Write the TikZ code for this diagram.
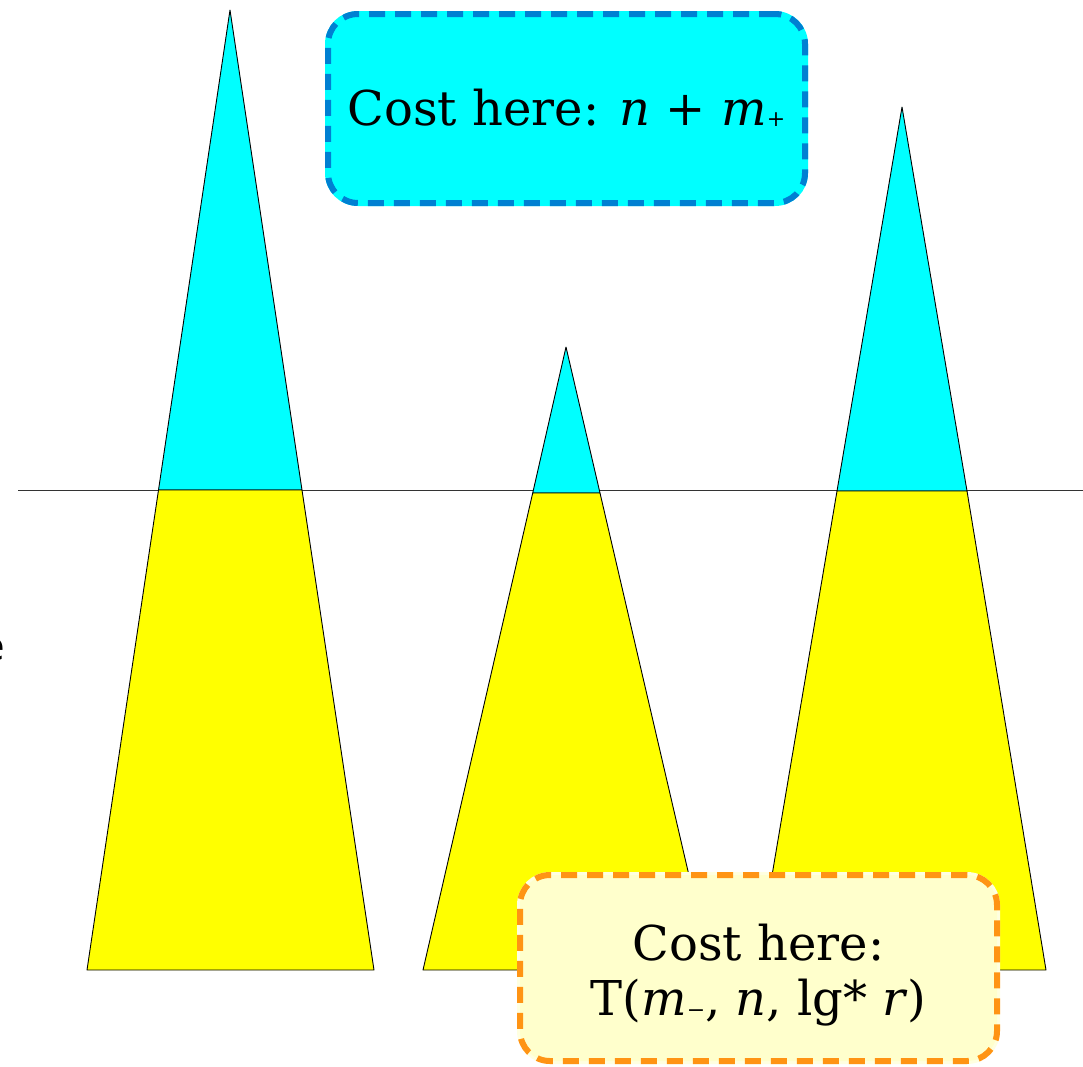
\documentclass[tikz,border=0pt]{standalone}
\usepackage{fontspec}
\setmainfont{DejaVu Serif}
\newfontfamily\edgesans{DejaVu Sans}
\definecolor{topfill}{RGB}{0,255,255}
\definecolor{topline}{RGB}{0,128,210}
\definecolor{botfill}{RGB}{255,255,204}
\definecolor{botline}{RGB}{255,148,20}
\definecolor{triup}{RGB}{0,255,255}
\definecolor{trilow}{RGB}{255,255,0}
\newcommand{\smallsub}[2]{\raisebox{#1}{\fontsize{22}{22}\selectfont #2}}
\begin{document}
\begin{tikzpicture}[x=1pt,y=-1pt,
  upperpart/.style={fill=triup,draw=black,line width=0.9pt,line join=round},
  lowerpart/.style={fill=trilow,draw=black,line width=0.9pt,line join=round},
  costbox/.style={rounded corners=30pt,line width=6pt,dash pattern=on 16pt off 10pt,
    minimum width=477pt,inner sep=0pt,align=center,
    font=\fontsize{48}{55}\selectfont},
]
\useasboundingbox (0,0) rectangle (1083,1066);
% horizontal level line
\coordinate (lineL) at (18,490);
\coordinate (lineR) at (1083,490);
\draw[line width=0.9pt,black!80] (lineL) -- (lineR);
% left tree
\coordinate (aTop) at (230,10);
\coordinate (aML) at (158.5,490);
\coordinate (aMR) at (302,490);
\coordinate (aBL) at (87,970);
\coordinate (aBR) at (374,970);
\draw[upperpart] (aTop) -- (aMR) -- (aML) -- cycle;
\draw[lowerpart] (aML) -- (aMR) -- (aBR) -- (aBL) -- cycle;
% middle tree
\coordinate (bTop) at (566,347);
\coordinate (bML) at (532.7,493);
\coordinate (bMR) at (600,493);
\coordinate (bBL) at (423,970);
\coordinate (bBR) at (711,970);
\draw[upperpart] (bTop) -- (bMR) -- (bML) -- cycle;
\draw[lowerpart] (bML) -- (bMR) -- (bBR) -- (bBL) -- cycle;
% right tree
\coordinate (cTop) at (902,107);
\coordinate (cML) at (837,491);
\coordinate (cMR) at (967,491);
\coordinate (cBL) at (756,970);
\coordinate (cBR) at (1046,970);
\draw[upperpart] (cTop) -- (cMR) -- (cML) -- cycle;
\draw[lowerpart] (cML) -- (cMR) -- (cBR) -- (cBL) -- cycle;
% clipped letter at the left edge
\node[anchor=base east,inner sep=0pt,font=\edgesans\fontsize{40}{48}\selectfont] (edgeletter) at (5,660) {e};
% cost boxes
\node[costbox,minimum height=189pt,fill=topfill,draw=topline,
  preaction={draw=topfill,solid,line width=6pt}] (topbox) at (566.5,108.5)
  {\raisebox{0pt}[33pt][0pt]{Cost here: \textit{n} + \textit{m}\smallsub{-1pt}{+}}};
\node[costbox,minimum height=186pt,fill=botfill,draw=botline,
  preaction={draw=botfill!60!white,solid,line width=6pt}] (botbox) at (758.5,968)
  {\raisebox{0pt}[94pt][0pt]{\begin{tabular}[b]{@{}c@{}}Cost here:\\T(\textit{m}\smallsub{-2pt}{−}, \textit{n}, lg* \textit{r})\end{tabular}}};
\end{tikzpicture}
\end{document}
